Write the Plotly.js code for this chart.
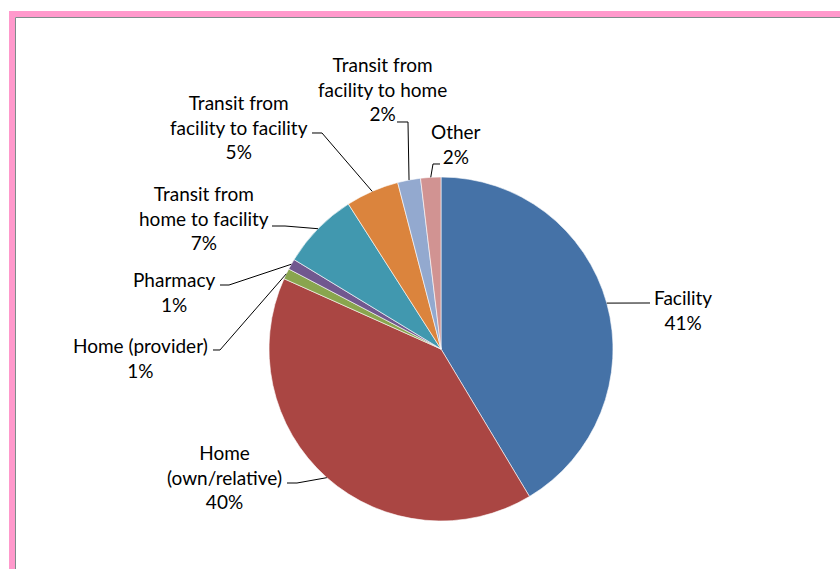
<!DOCTYPE html>
<html>
<head>
<meta charset="utf-8">
<script src="https://cdn.plot.ly/plotly-3.0.1.min.js"></script>
<style>html,body{margin:0;padding:0;background:#fff;}#chart{width:840px;height:569px;}</style>
</head>
<body>
<div id="chart"></div>
<script>
// ---- data ----
const categories = ["Facility", "Home (own/relative)", "Home (provider)", "Pharmacy",
  "Transit from home to facility", "Transit from facility to facility",
  "Transit from facility to home", "Other"];
const labelText = ["Facility", "Home<br>(own/relative)", "Home (provider)", "Pharmacy",
  "Transit from<br>home to facility", "Transit from<br>facility to facility",
  "Transit from<br>facility to home", "Other"];
const values = [41.4, 40.3, 1.0, 1.0, 7.25, 5.0, 2.15, 1.9];
const colors = ["#4572A7", "#AA4643", "#89A54E", "#71588F", "#4198AF", "#DB843D", "#93A9CF", "#D19392"];

// ---- layout geometry (pixels) ----
const W = 840, H = 569;
const CX = 441, CY = 349, R = 172;
const px = x => x / W;
const py = y => 1 - y / H;

// label centres and leader-line elbows (pixels)
const labelPos = [[683, 310], [224, 477], [140, 358], [174, 292], [204, 218], [239, 127], [382, 89], [456, 144]];
const elbows = [
  [[650, 303]],
  [[297, 483], [287, 483]],
  [[220, 350], [213, 350]],
  [[229, 285], [220, 285]],
  [[285, 226], [272, 226]],
  [[322, 133], [312, 133]],
  [[408, 122], [397, 122]],
  [[433, 164], [440, 164]]
];

const total = values.reduce((a, b) => a + b, 0);
let cum = 0;
const shapes = [];
const annotations = [];
values.forEach((v, i) => {
  const mid = (cum + v / 2) / total;
  cum += v;
  const ang = mid * 2 * Math.PI; // clockwise from 12 o'clock
  const ex = CX + R * Math.sin(ang);
  const ey = CY - R * Math.cos(ang);
  const pts = [[ex, ey]].concat(elbows[i]);
  const d = pts.map((p, k) => (k === 0 ? 'M ' : 'L ') + px(p[0]).toFixed(5) + ' ' + py(p[1]).toFixed(5)).join(' ');
  shapes.push({type: 'path', xref: 'paper', yref: 'paper', path: d, line: {color: '#000', width: 1}});
  const pct = Math.round(v / total * 100) + '%';
  annotations.push({
    xref: 'paper', yref: 'paper', x: px(labelPos[i][0]), y: py(labelPos[i][1]),
    xanchor: 'center', yanchor: 'middle', showarrow: false,
    text: labelText[i] + '<br>' + pct,
    font: {family: 'Lato, "Open Sans", sans-serif', size: 19, color: '#000'}
  });
});

// frame: pink band with grey inner line
shapes.push({type: 'rect', xref: 'paper', yref: 'paper', x0: px(9), x1: px(15), y0: 0, y1: py(11), fillcolor: '#FF99CC', line: {width: 0}, layer: 'below'});
shapes.push({type: 'rect', xref: 'paper', yref: 'paper', x0: px(9), x1: 1, y0: py(17), y1: py(11), fillcolor: '#FF99CC', line: {width: 0}, layer: 'below'});
shapes.push({type: 'line', xref: 'paper', yref: 'paper', x0: px(15.5), x1: px(15.5), y0: 0, y1: py(17.5), line: {color: '#7F8C8C', width: 1}});
shapes.push({type: 'line', xref: 'paper', yref: 'paper', x0: px(15.5), x1: 1, y0: py(17.5), y1: py(17.5), line: {color: '#7F8C8C', width: 1}});

const trace = {
  type: 'pie',
  labels: categories,
  values: values,
  sort: false,
  direction: 'clockwise',
  rotation: 0,
  textinfo: 'none',
  hoverinfo: 'label+percent',
  marker: {colors: colors, line: {color: '#FFFFFF', width: 0.6}},
  domain: {x: [px(CX - R), px(CX + R)], y: [py(CY + R), py(CY - R)]}
};

const layout = {
  width: W, height: H,
  margin: {l: 0, r: 0, t: 0, b: 0},
  paper_bgcolor: '#FFFFFF',
  showlegend: false,
  shapes: shapes,
  annotations: annotations
};

Plotly.newPlot('chart', [trace], layout, {displayModeBar: false, staticPlot: true});
</script>
</body>
</html>
